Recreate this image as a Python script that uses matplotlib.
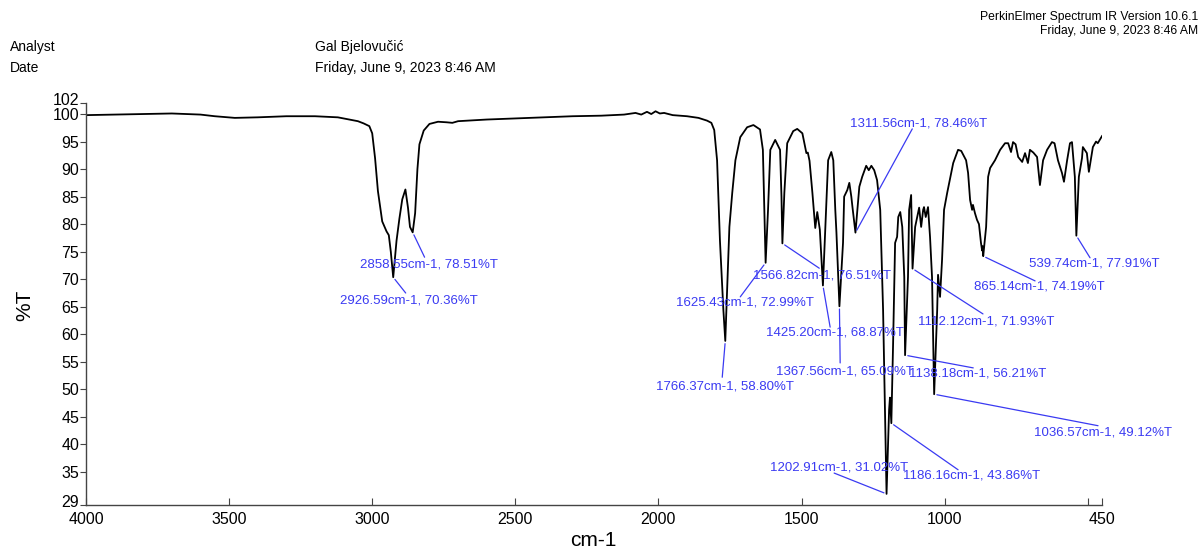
import matplotlib
matplotlib.use("Agg")
import matplotlib.pyplot as plt
from matplotlib.transforms import ScaledTranslation

plt.rcParams["font.family"] = ["Liberation Sans", "DejaVu Sans"]

# spectrum (wavenumber cm-1, %T)
wavenumber = [
    4000, 3900, 3800, 3700, 3600, 3550, 3480, 3400, 3300, 3200, 3120, 3080,
    3050, 3030, 3010, 3000, 2990, 2980, 2965, 2950, 2942, 2935, 2926.59,
    2915, 2905, 2895, 2884, 2875, 2868, 2858.55, 2850, 2842, 2835, 2820,
    2800, 2770, 2740, 2720, 2700, 2600, 2500, 2400, 2300, 2200, 2120, 2080,
    2060, 2040, 2025, 2010, 1995, 1980, 1950, 1900, 1860, 1830, 1815, 1805,
    1795, 1785, 1773, 1766.37, 1760, 1752, 1742, 1731, 1714, 1690, 1668,
    1645, 1635, 1630, 1625.43, 1617, 1609, 1592, 1575, 1570, 1566.82, 1560,
    1550, 1529, 1515, 1497, 1483, 1478, 1472, 1462, 1452, 1445, 1436,
    1425.20, 1414, 1407, 1396, 1389, 1382, 1378, 1367.56, 1355, 1351, 1340,
    1333, 1326, 1322, 1311.56, 1298, 1288, 1274, 1265, 1256, 1246, 1236,
    1225, 1215, 1202.91, 1194, 1191, 1186.16, 1180, 1173, 1166, 1162, 1155,
    1148, 1141, 1138.18, 1128, 1124, 1117, 1112.12, 1103, 1096, 1089, 1082,
    1075, 1072, 1066, 1058, 1051, 1044, 1036.57, 1026, 1023, 1016, 1009,
    1002, 991, 984, 970, 953, 942, 925, 918, 911, 904, 901, 894, 887, 880,
    873, 869, 867, 865.14, 855, 848, 841, 824, 806, 789, 778, 768, 761, 752,
    743, 729, 719, 709, 702, 690, 677, 667, 656, 642, 625, 616, 604, 590,
    583, 572, 562, 555, 545, 539.74, 531, 520, 517, 503, 496, 482, 471, 465,
    450,
]
transmittance = [
    99.8, 99.9, 100.0, 100.1, 99.9, 99.6, 99.3, 99.4, 99.6, 99.6, 99.4, 99.0,
    98.7, 98.3, 97.8, 96.5, 92.0, 86.0, 80.5, 78.7, 78.0, 75.0, 70.36,
    77.0, 81.0, 84.5, 86.3, 83.0, 79.5, 78.51, 82.0, 90.0, 94.5, 97.0,
    98.2, 98.6, 98.5, 98.4, 98.7, 99.0, 99.2, 99.4, 99.6, 99.7, 99.9, 100.2,
    99.9, 100.4, 100.0, 100.5, 100.1, 100.2, 99.8, 99.6, 99.3, 98.8, 98.4, 97.1,
    91.6, 77.0, 64.4, 58.80, 68.0, 79.5, 85.7, 91.6, 95.8, 97.6, 98.0,
    97.2, 93.5, 83.0, 72.99, 82.6, 93.5, 95.3, 93.5, 85.0, 76.51, 85.7,
    94.7, 96.9, 97.3, 96.5, 92.9, 93.0, 91.5, 85.7, 79.3, 82.2, 79.0,
    68.87, 82.6, 91.6, 93.1, 91.6, 82.6, 78.5, 65.09, 76.6, 85.0, 86.2,
    87.5, 85.0, 83.1, 78.46, 86.8, 88.6, 90.6, 89.8, 90.6, 89.8, 88.0,
    82.6, 64.4, 31.02, 46.3, 48.5, 43.86, 58.4, 76.6, 77.7, 81.3, 82.2,
    79.5, 70.4, 56.21, 70.4, 82.6, 85.3, 71.93, 79.5, 81.3, 83.0, 79.5,
    82.6, 83.1, 81.3, 83.1, 77.7, 70.4, 49.12, 64.4, 70.8, 66.8, 73.5,
    82.6, 85.7, 87.5, 91.1, 93.5, 93.3, 91.6, 89.3, 84.4, 82.6, 83.5, 82.0, 80.8, 80.0,
    76.6, 75.2, 76.0, 74.19, 79.5, 88.6, 90.2, 91.6, 93.5, 94.7, 94.7, 93.1, 94.9, 94.5,
    92.2, 91.3, 92.9, 91.1, 93.5, 93.0, 92.2, 87.1, 91.6, 93.5, 94.9, 94.7, 91.6, 89.3,
    87.7, 91.6, 94.7, 94.9, 88.6, 77.91, 88.6, 92.0, 94.0, 92.9, 89.5, 94.0, 95.0, 94.7,
    96.0,
]

# labelled peaks
peak_wn = [2926.59, 2858.55, 1766.37, 1625.43, 1566.82, 1425.20, 1367.56,
           1311.56, 1202.91, 1186.16, 1138.18, 1112.12, 1036.57, 865.14, 539.74]
peak_t = [70.36, 78.51, 58.80, 72.99, 76.51, 68.87, 65.09,
          78.46, 31.02, 43.86, 56.21, 71.93, 49.12, 74.19, 77.91]

# label placement (text left/centre, leader line end) in data units
label_pos = [(3113, 66.2), (3044, 72.6), (2007, 50.6), (1937, 65.7),
             (1668, 70.6), (1623, 60.4), (1588, 53.3), (1330, 98.2),
             (1609, 35.9), (1145, 34.3), (1124, 52.8), (1093, 62.4),
             (688, 42.1), (897, 68.6), (705, 72.8)]
line_end = [(2883, 67.5), (2817, 74.0), (1777, 52.2), (1714, 66.8),
            (1438, 72.0), (1400, 61.3), (1365, 54.8), (1113, 97.3),
            (1386, 34.8), (953, 35.4), (900, 53.9), (866, 63.7),
            (464, 43.4), (684, 69.7), (492, 73.9)]

blue = "#3a3af2"

fig = plt.figure(figsize=(12.01, 5.5), dpi=100)
ax = fig.add_axes([0.0716, 0.0818, 0.846, 0.7309])

ax.plot(wavenumber, transmittance, color="black", lw=1.3)

for wn, t, (tx, ty), (lx, ly) in zip(peak_wn, peak_t, label_pos, line_end):
    ax.annotate(
        "",
        xy=(wn, t),
        xytext=(lx, ly),
        arrowprops=dict(arrowstyle="-", color=blue, lw=0.9,
                        shrinkA=0, shrinkB=2),
    )
    ax.text(tx, ty, f"{wn:.2f}cm-1, {t:.2f}%T", color=blue,
            fontsize=9.5, ha="left", va="center")

ax.set_xlim(4000, 450)
ax.set_ylim(29, 102)

xt = [4000, 3500, 3000, 2500, 2000, 1500, 1000, 500, 450]
ax.set_xticks(xt)
ax.set_xticklabels([str(v) if v != 500 else "" for v in xt])
yt = [29, 35, 40, 45, 50, 55, 60, 65, 70, 75, 80, 85, 90, 95, 100, 102]
ax.set_yticks(yt)
ax.set_yticklabels([str(v) for v in yt])

ax.tick_params(axis="x", direction="in", length=5, labelsize=11.5,
               pad=5, color="#444444")
ax.tick_params(axis="y", direction="out", length=4, labelsize=11.5,
               pad=1, color="#444444")

# nudge the crowded end labels apart, as in the reference
ylabels = ax.get_yticklabels()
ylabels[-1].set_transform(ylabels[-1].get_transform()
                          + ScaledTranslation(0, 3 / 72, fig.dpi_scale_trans))
ylabels[0].set_transform(ylabels[0].get_transform()
                         + ScaledTranslation(0, 3 / 72, fig.dpi_scale_trans))

for side in ["top", "right"]:
    ax.spines[side].set_visible(False)
for side in ["left", "bottom"]:
    ax.spines[side].set_color("#444444")
    ax.spines[side].set_linewidth(1.0)

fig.text(0.494, 0.018, "cm-1", fontsize=15, ha="center", va="center")
fig.text(0.021, 0.445, "%T", fontsize=15, rotation=90,
         ha="center", va="center")

# header
fig.text(0.0083, 0.9145, "Analyst", fontsize=10, va="center")
fig.text(0.0083, 0.8764, "Date", fontsize=10, va="center")
fig.text(0.2623, 0.9145, "Gal Bjelovučić", fontsize=10, va="center")
fig.text(0.2623, 0.8764, "Friday, June 9, 2023 8:46 AM", fontsize=10,
         va="center")
fig.text(0.9975, 0.969, "PerkinElmer Spectrum IR Version 10.6.1",
         fontsize=8.7, ha="right", va="center")
fig.text(0.9975, 0.9436, "Friday, June 9, 2023 8:46 AM",
         fontsize=8.7, ha="right", va="center")

fig.savefig("out.png", dpi=100)
